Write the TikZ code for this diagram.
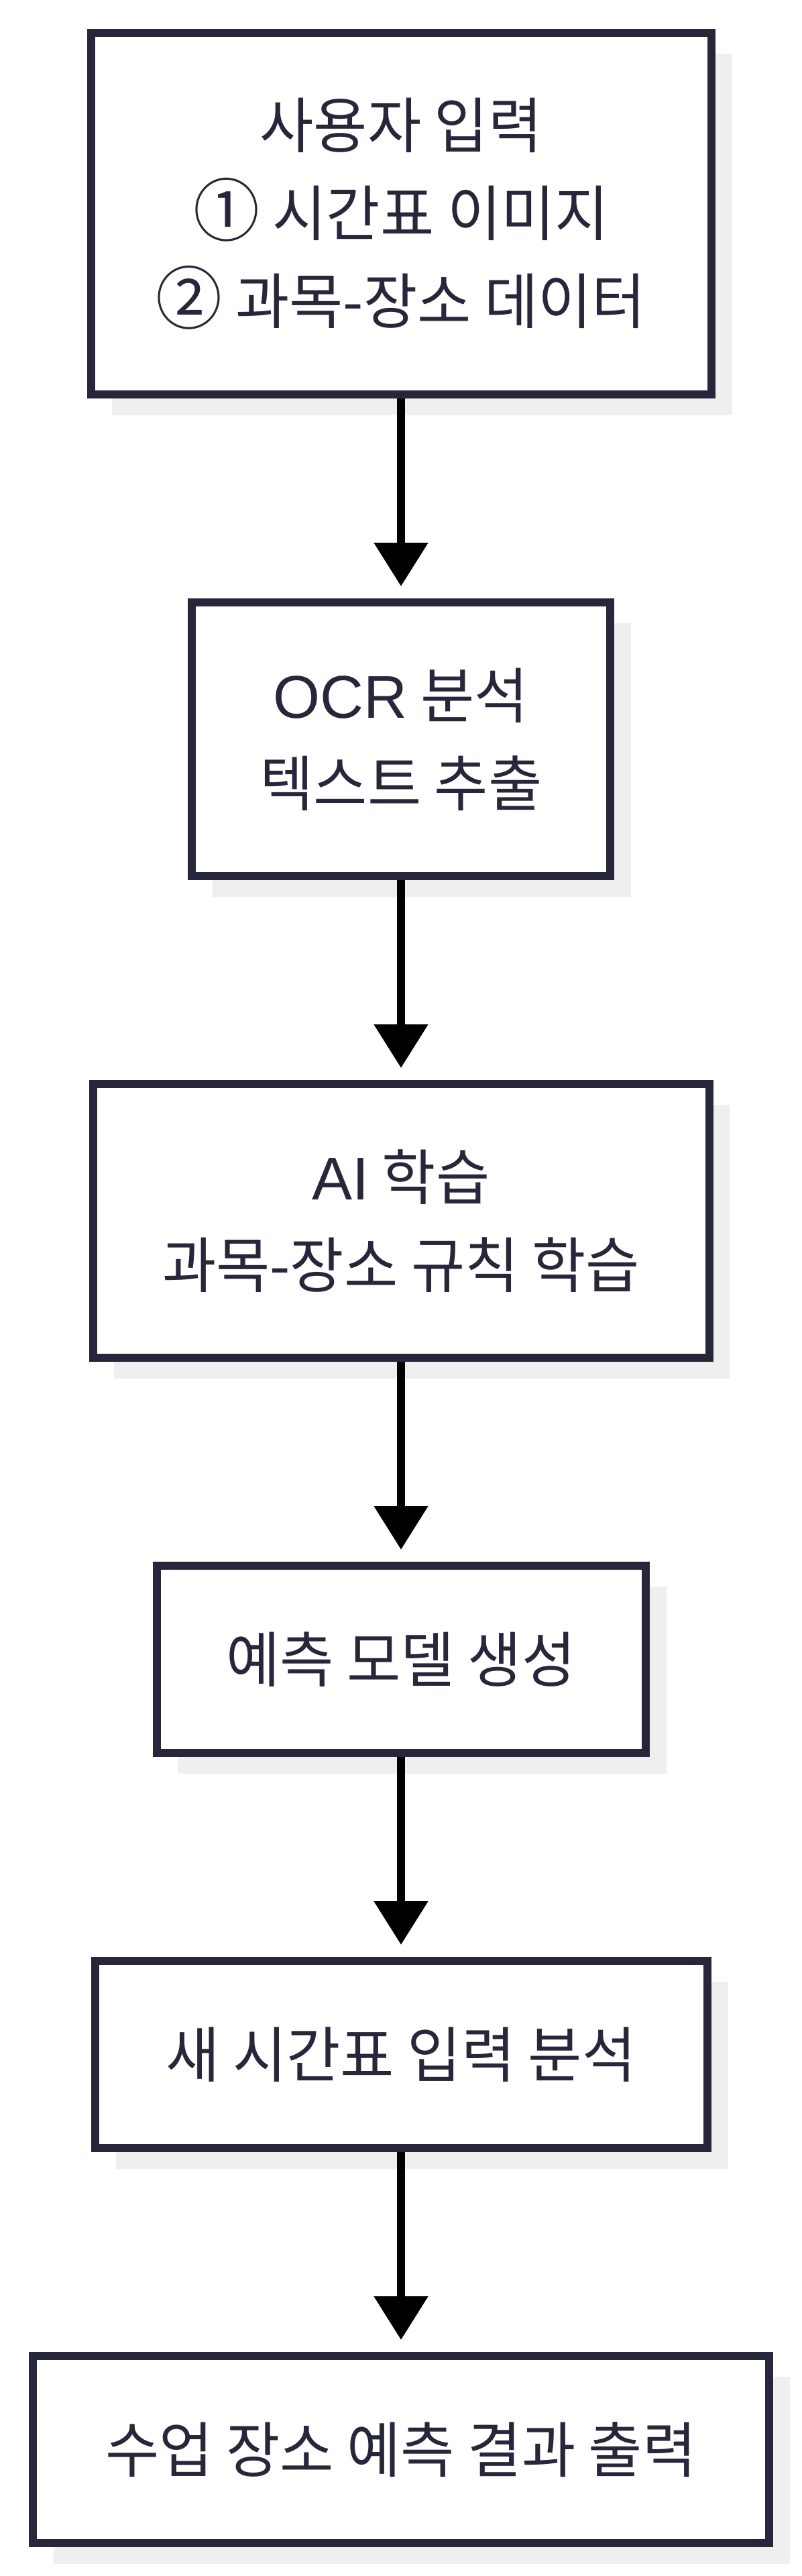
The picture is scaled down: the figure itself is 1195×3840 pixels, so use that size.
\documentclass[tikz,border=0pt]{standalone}
\usepackage{fontspec}
\setmainfont{Liberation Sans}
\newfontfamily\kr[FakeStretch=0.97]{Noto Sans CJK KR}
\newcommand{\circnum}[1]{{\fontsize{51}{65.5}\selectfont #1}}
\usetikzlibrary{arrows.meta,shadows}
\definecolor{ink}{HTML}{27273B}
\definecolor{shade}{HTML}{EFEFEF}
\begin{document}
\begin{tikzpicture}[x=0.5pt,y=-0.5pt,
  box/.style={draw=ink, line width=6pt, fill=white, text=ink, align=center, inner sep=0pt,
    font=\kr\fontsize{45}{65.5}\selectfont,
    general shadow={fill=shade, shadow xshift=15.5pt, shadow yshift=-15.5pt}},
  flow/.style={draw=black, line width=6pt, -{Triangle[width=39pt,length=32.5pt]}, shorten >=9pt}]
\useasboundingbox (0,0) rectangle (1195,3840);
\node[box, minimum width=462.5pt, minimum height=269.5pt] (b1) at (598,318.5)
  {사용자 입력\\\circnum{①} 시간표 이미지\\\circnum{②} 과목-장소 데이터};
\node[box, minimum width=312pt, minimum height=204pt] (b2) at (598,1102)
  {{\rmfamily OCR} 분석\\텍스트 추출};
\node[box, minimum width=459.5pt, minimum height=204pt] (b3) at (598,1820)
  {{\rmfamily AI} 학습\\과목-장소 규칙 학습};
\node[box, minimum width=364.5pt, minimum height=139.5pt] (b4) at (598,2473.5)
  {예측 모델 생성};
\node[box, minimum width=456.5pt, minimum height=139.5pt] (b5) at (598,3062.5)
  {새 시간표 입력 분석};
\node[box, minimum width=549pt, minimum height=139.5pt] (b6) at (598,3651.5)
  {수업 장소 예측 결과 출력};
\draw[flow] (b1) -- (b2);
\draw[flow] (b2) -- (b3);
\draw[flow] (b3) -- (b4);
\draw[flow] (b4) -- (b5);
\draw[flow] (b5) -- (b6);
\end{tikzpicture}
\end{document}
